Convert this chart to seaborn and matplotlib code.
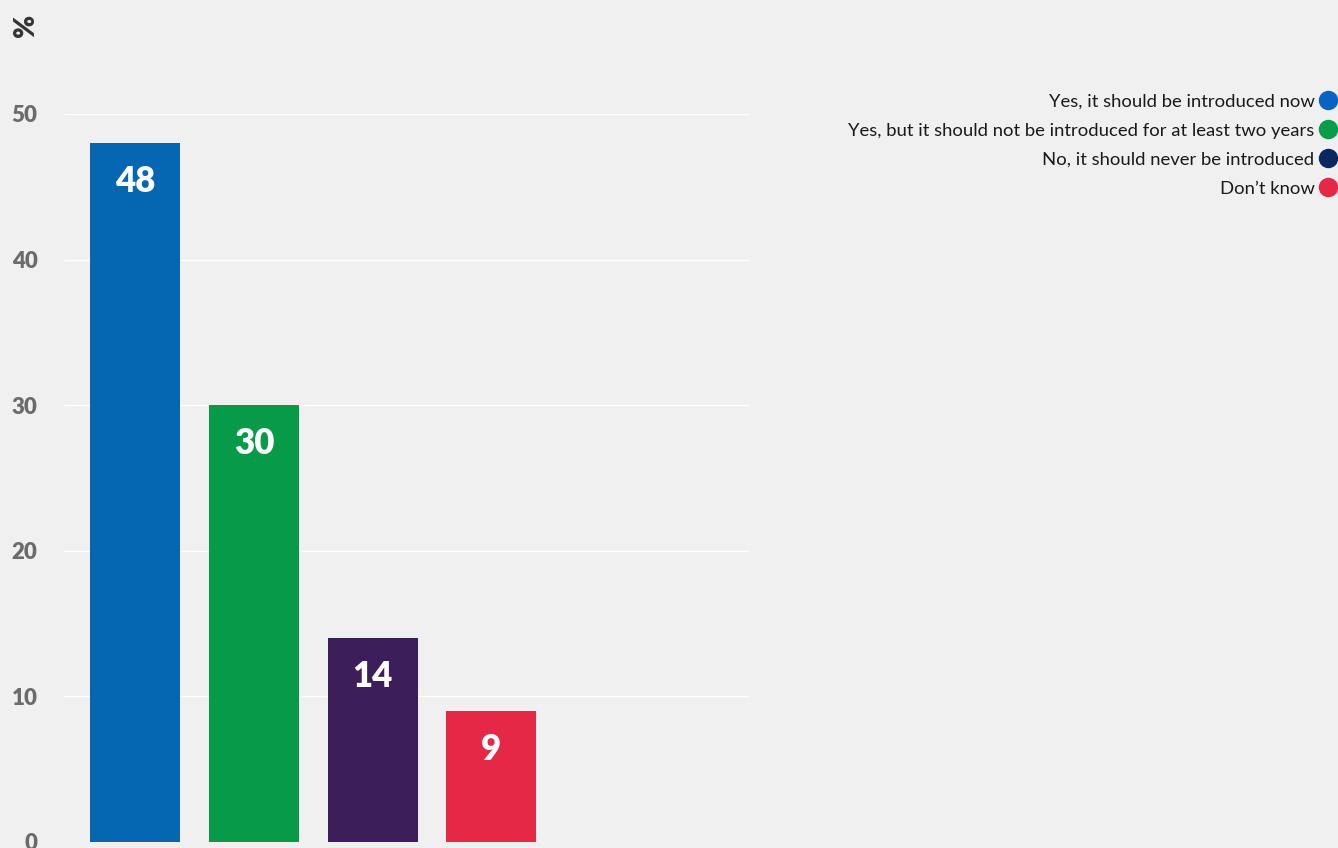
import matplotlib
matplotlib.use("Agg")
import matplotlib.pyplot as plt
import seaborn as sns
import pandas as pd
from matplotlib.lines import Line2D

categories = [
    "Yes, it should be introduced now",
    "Yes, but it should not be introduced for at least two years",
    "No, it should never be introduced",
    "Don\u2019t know",
]
values = [48, 30, 14, 9]
bar_colors = ["#0567b1", "#069a49", "#3c1f5a", "#e52846"]
legend_colors = ["#0a63c2", "#079d4a", "#0b2761", "#e52846"]
yticks = [0, 10, 20, 30, 40, 50]

sns.set_theme(style="white")
plt.rcParams["font.family"] = ["Lato", "DejaVu Sans"]

bg = "#f0f0f0"
fig = plt.figure(figsize=(13.38, 8.48), dpi=100, facecolor=bg)
W, H = 1338, 848
ax = fig.add_axes([64 / W, (H - 842) / H, (749 - 64) / W, (842 - 114) / H])
ax.set_facecolor(bg)

df = pd.DataFrame({"cat": categories, "val": values})
sns.barplot(data=df, x="cat", y="val", hue="cat", palette=bar_colors,
            width=0.758, legend=False, ax=ax, saturation=1, zorder=3, linewidth=0)

ax.set_xlim(-0.6, 5.17)
ax.set_ylim(0, 50)
ax.set_yticks(yticks)
ax.set_yticklabels([str(t) for t in yticks], fontsize=16, fontweight="heavy", color="#6b6b6b")
ax.tick_params(axis="y", length=0, pad=19)
ax.set_xticks([])
ax.set_xlabel("")
ax.set_ylabel("")
for y in yticks:
    ax.axhline(y, color="white", lw=1.0, zorder=1)
for s in ax.spines.values():
    s.set_visible(False)

for i, v in enumerate(values):
    ax.annotate(str(v), (i, v), xytext=(0, -27.5), textcoords="offset points",
                ha="center", va="center", color="white", fontsize=25, fontweight="heavy", zorder=5)

fig.text(26 / W, 1 - 25 / H, "%", rotation=90, fontsize=20, fontweight="heavy",
         color="#333333", ha="center", va="center")

handles = [Line2D([0], [0], marker="o", linestyle="", markersize=13,
                  markerfacecolor=c, markeredgecolor=c) for c in legend_colors]
leg = fig.legend(handles, categories, loc="upper right", bbox_to_anchor=(1.0 + 7 / W, 1 - 86 / H),
                 markerfirst=False, frameon=False, fontsize=13.3, handletextpad=0.25,
                 labelspacing=0.71, borderaxespad=0, handlelength=1.0)
for t in leg.get_texts():
    t.set_color("#1a1a1a")

fig.savefig("out.png", dpi=100, facecolor=bg)
